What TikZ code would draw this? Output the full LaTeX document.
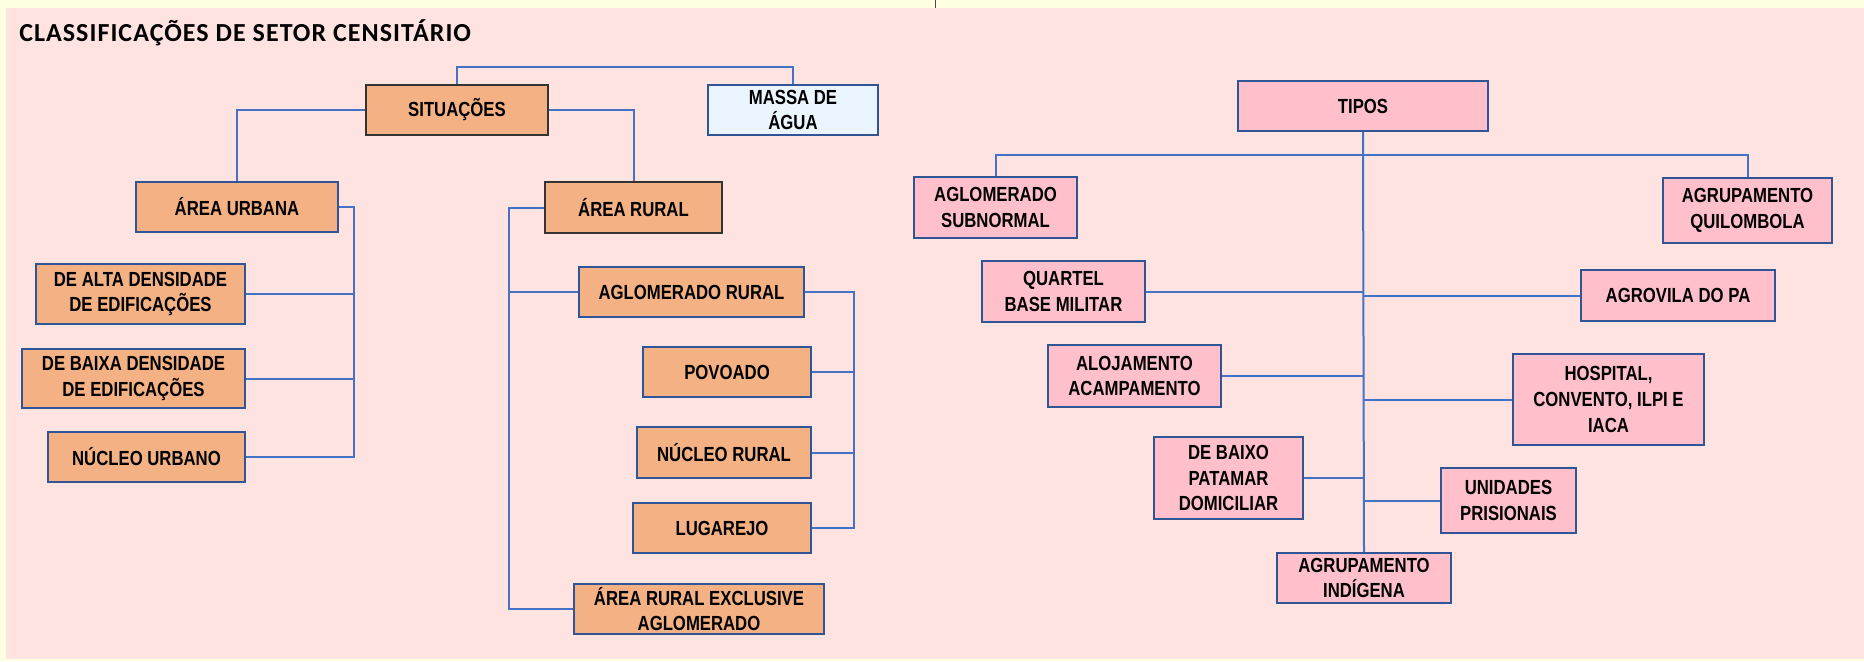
\documentclass[tikz,border=0pt]{standalone}
\usepackage{fontspec}
\usepackage{tikz}
\newfontfamily\boxfont{Liberation Sans}[FakeStretch=0.82]
\newfontfamily\titlefont{Carlito}[LetterSpace=4]
\definecolor{bgpink}{RGB}{255,227,225}
\definecolor{bgcream}{RGB}{255,255,225}
\definecolor{boxorange}{RGB}{244,177,131}
\definecolor{boxpink}{RGB}{255,192,203}
\definecolor{boxwater}{RGB}{235,245,255}
\definecolor{lineblue}{RGB}{68,114,196}
\definecolor{edgeblue}{RGB}{47,85,151}

\begin{document}
\begin{tikzpicture}[x=0.75pt, y=-0.75pt,
    boxnode/.style 2 args={draw=edgeblue, line width=1.5pt, inner sep=0pt, align=center, minimum width=#1*0.75pt, minimum height=#2*0.75pt, font=\boxfont\bfseries\fontsize{15.3pt}{19.3pt}\selectfont},
    orangenode/.style 2 args={boxnode={#1}{#2}, fill=boxorange},
    pinknode/.style 2 args={boxnode={#1}{#2}, fill=boxpink},
    waternode/.style 2 args={boxnode={#1}{#2}, fill=boxwater},
    linkline/.style={draw=lineblue, line width=1.5pt}
    ]
    \useasboundingbox (0,0) rectangle (1864,661);
    \fill [bgcream] (0,0) rectangle (1864,661);
    \fill [bgpink] (6,8) rectangle (1864,659);
    \draw [black!70, line width=0.75pt] (935,0) -- (935,8);

    \node [anchor=base west, inner sep=0pt, font=\titlefont\bfseries\fontsize{19.5pt}{23pt}\selectfont] (title) at (19,41) {CLASSIFICAÇÕES DE SETOR CENSITÁRIO};

    \node [orangenode={182}{50}, draw=black!80] (a1) at (457,110) {SITUAÇÕES};
    \node [waternode={170}{50}] (a2) at (793,110) {MASSA DE\\ÁGUA};
    \draw [linkline] (a1.north) -- ++(0,-17) -| (a2.north);

    \node [orangenode={202}{50}] (b1) at (237,207) {ÁREA URBANA};
    \node [orangenode={209}{60}] (b2) at (140.5,294) {DE ALTA DENSIDADE\\DE EDIFICAÇÕES};
    \node [orangenode={223}{59}] (b3) at (133.5,378.5) {DE BAIXA DENSIDADE\\DE EDIFICAÇÕES};
    \node [orangenode={197}{50}] (b4) at (146.5,457) {NÚCLEO URBANO};
    \draw [linkline] (a1.west) -| (b1.north);
    \coordinate (bbus) at (354,207);
    \draw [linkline] (b1.east) -- (bbus) |- (b4.east);
    \draw [linkline] (b2.east) -- (b2.east -| bbus);
    \draw [linkline] (b3.east) -- (b3.east -| bbus);

    \node [orangenode={177}{51}, draw=black!80] (c1) at (633.5,207.5) {ÁREA RURAL};
    \node [orangenode={225}{50}] (c2) at (691.5,292) {AGLOMERADO RURAL};
    \node [orangenode={168}{50}] (c3) at (727,372) {POVOADO};
    \node [orangenode={174}{51}] (c4) at (724,452.5) {NÚCLEO RURAL};
    \node [orangenode={178}{50}] (c5) at (722,528) {LUGAREJO};
    \node [orangenode={250}{50}] (c6) at (699,609) {ÁREA RURAL EXCLUSIVE\\AGLOMERADO};
    \draw [linkline] (a1.east) -| (c1.north);
    \coordinate (cbus) at (509,207.5);
    \draw [linkline] (c1.west) -- (cbus) |- (c6.west);
    \draw [linkline] (c2.west) -- (c2.west -| cbus);
    \coordinate (dbus) at (854,292);
    \draw [linkline] (c2.east) -- (dbus) |- (c5.east);
    \draw [linkline] (c3.east) -- (c3.east -| dbus);
    \draw [linkline] (c4.east) -- (c4.east -| dbus);

    \node [pinknode={250}{50}] (d0) at (1363,106) {TIPOS};
    \node [pinknode={163}{61}] (d1) at (995.5,207.5) {AGLOMERADO\\SUBNORMAL};
    \node [pinknode={169}{65}] (d2) at (1747.5,210.5) {AGRUPAMENTO\\QUILOMBOLA};
    \node [pinknode={163}{61}] (d3) at (1063.5,291.5) {QUARTEL\\BASE MILITAR};
    \node [pinknode={194}{51}] (d4) at (1678,295.5) {AGROVILA DO PA};
    \node [pinknode={173}{62}] (d5) at (1134.5,376) {ALOJAMENTO\\ACAMPAMENTO};
    \node [pinknode={191}{91}] (d6) at (1608.5,399.5) {HOSPITAL,\\CONVENTO, ILPI E\\IACA};
    \node [pinknode={149}{82}] (d7) at (1228.5,478) {DE BAIXO\\PATAMAR\\DOMICILIAR};
    \node [pinknode={135}{65}] (d8) at (1508.5,500.5) {UNIDADES\\PRISIONAIS};
    \node [pinknode={174}{50}] (d9) at (1364,578) {AGRUPAMENTO\\INDÍGENA};
    \draw [linkline] (d0.south) -- (d9.north);
    \coordinate (dbar) at (1363,155);
    \draw [linkline] (d1.north) |- (dbar) -| (d2.north);
    \draw [linkline] (d3.east) -- (d3.east -| d0.south);
    \draw [linkline] (d4.west) -- (d4.west -| d0.south);
    \draw [linkline] (d5.east) -- (d5.east -| d0.south);
    \draw [linkline] (d6.west) -- (d6.west -| d0.south);
    \draw [linkline] (d7.east) -- (d7.east -| d0.south);
    \draw [linkline] (d8.west) -- (d8.west -| d0.south);
\end{tikzpicture}
\end{document}
